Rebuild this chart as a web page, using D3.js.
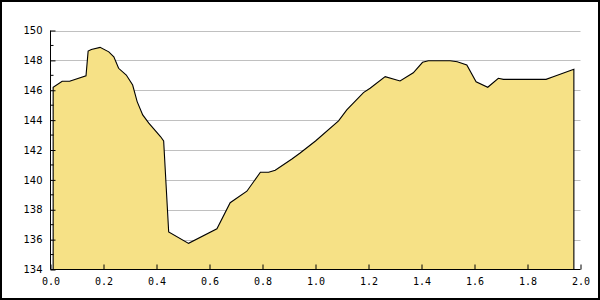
<!DOCTYPE html>
<html>
<head>
<meta charset="utf-8">
<script src="https://cdn.jsdelivr.net/npm/d3@7"></script>
<style>
  body { margin: 0; background: #fff; }
  svg { display: block; }
</style>
</head>
<body>
<svg width="600" height="300"></svg>
<script>
// data
let xs = [0.01, 0.044, 0.072, 0.134, 0.142, 0.154, 0.187, 0.220, 0.239, 0.257,
  0.286, 0.310, 0.327, 0.348, 0.371, 0.415, 0.427, 0.446, 0.521, 0.628,
  0.678, 0.741, 0.792, 0.823, 0.848, 0.911, 0.942, 1.000, 1.087, 1.118,
  1.181, 1.206, 1.263, 1.319, 1.369, 1.404, 1.426, 1.508, 1.535, 1.571,
  1.606, 1.650, 1.690, 1.709, 1.870, 1.897, 1.975];
let ys = [146.2, 146.6, 146.6, 146.97, 148.62, 148.73, 148.87, 148.57, 148.24, 147.47,
  147.02, 146.35, 145.24, 144.35, 143.8, 142.9, 142.6, 136.51, 135.75, 136.73,
  138.47, 139.24, 140.51, 140.51, 140.64, 141.4, 141.8, 142.6, 143.95, 144.69,
  145.84, 146.13, 146.91, 146.62, 147.17, 147.87, 147.97, 147.97, 147.91, 147.69,
  146.57, 146.2, 146.8, 146.73, 146.73, 146.91, 147.4];

let xTicks = [0, 0.2, 0.4, 0.6, 0.8, 1.0, 1.2, 1.4, 1.6, 1.8, 2.0];
let yTicks = [134, 136, 138, 140, 142, 144, 146, 148, 150];
let yMinor = [135, 137, 139, 141, 143, 145, 147, 149];

let svg = d3.select('svg');

let x = d3.scaleLinear().domain([0, 2]).range([50.5, 580.5]);
let y = d3.scaleLinear().domain([134, 150]).range([269.5, 30.5]);

let data = xs.map((v, i) => ({ x: v, y: ys[i] }));

// frame
svg.append('rect')
  .attr('x', 1).attr('y', 1)
  .attr('width', 598).attr('height', 298)
  .attr('fill', '#fff')
  .attr('stroke', '#000')
  .attr('stroke-width', 2);

// grid
svg.append('g')
  .selectAll('line')
  .data(yTicks.slice(1))
  .enter()
  .append('line')
  .attr('x1', x(0)).attr('x2', x(2))
  .attr('y1', d => Math.round(y(d)) + 0.5)
  .attr('y2', d => Math.round(y(d)) + 0.5)
  .attr('stroke', '#c0c0c0')
  .attr('stroke-width', 1);

// area
let area = d3.area()
  .x(d => x(d.x))
  .y0(y(134))
  .y1(d => y(d.y));

svg.append('path')
  .datum(data)
  .attr('d', area)
  .attr('fill', '#f6e186');

let line = d3.line()
  .x(d => x(d.x))
  .y(d => y(d.y));

// outline incl. vertical ends
let outline = [{ x: xs[0], y: 134 }].concat(data, [{ x: xs[xs.length - 1], y: 134 }]);
svg.append('path')
  .datum(outline)
  .attr('d', line)
  .attr('fill', 'none')
  .attr('stroke', '#000')
  .attr('stroke-width', 1.1);

// y axis
let yAxis = d3.axisLeft(y)
  .tickValues(yTicks)
  .tickSize(-5)
  .tickPadding(8)
  .tickFormat(d3.format('d'));

let gy = svg.append('g')
  .attr('transform', `translate(${x(0)},0)`)
  .call(yAxis);
gy.select('.domain').attr('stroke', '#000').attr('d', `M0,${y(150)}V${y(134)}`);
gy.selectAll('text')
  .attr('font-family', 'DejaVu Sans')
  .attr('font-size', 10)
  .attr('fill', '#000');

gy.selectAll('.minor')
  .data(yMinor)
  .enter()
  .append('line')
  .attr('class', 'minor')
  .attr('x1', 0).attr('x2', 3)
  .attr('y1', d => y(d)).attr('y2', d => y(d))
  .attr('stroke', '#000');

// x axis
let xAxis = d3.axisBottom(x)
  .tickValues(xTicks)
  .tickSize(-5)
  .tickPadding(8)
  .tickFormat(d3.format('.1f'));

let gx = svg.append('g')
  .attr('transform', `translate(0,${y(134)})`)
  .call(xAxis);
gx.select('.domain').attr('stroke', '#000').attr('d', `M${x(0)},0H${x(2)}`);
gx.selectAll('text')
  .attr('font-family', 'DejaVu Sans Mono')
  .attr('font-size', 10)
  .attr('fill', '#000');
</script>
</body>
</html>
